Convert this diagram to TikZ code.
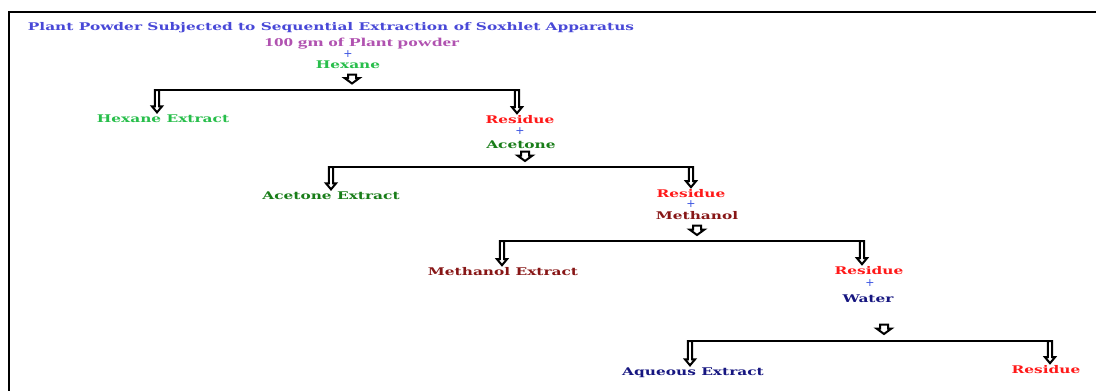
\documentclass[tikz,border=0pt]{standalone}
\usepackage{fontspec}
\newfontfamily\slab[FakeStretch=1.45]{DejaVu Serif}
\newfontfamily\powderfont[FakeStretch=1.6]{Liberation Serif}
\newfontfamily\plusfont{DejaVu Sans}
\usetikzlibrary{calc,positioning}
\definecolor{titleblue}{RGB}{72,72,215}
\definecolor{powder}{RGB}{176,82,176}
\definecolor{plusblue}{RGB}{60,85,225}
\definecolor{hexgreen}{RGB}{40,190,75}
\definecolor{acegreen}{RGB}{25,125,25}
\definecolor{resred}{RGB}{255,25,25}
\definecolor{methred}{RGB}{135,22,22}
\definecolor{watblue}{RGB}{22,22,128}
\tikzset{
x=1pt, y=-1pt,
lbl/.style={font=\slab\bfseries\fontsize{10.6}{12}\selectfont, inner sep=1.5pt, yshift=-2pt},
plus/.style={text=plusblue, font=\plusfont\fontsize{11}{11}\selectfont, inner sep=0pt},
bar/.style={line width=2pt, shorten <=-3pt, shorten >=-3pt},
hollow/.style n args={3}{draw=black, fill=white, line width=2pt,
  to path={let \p1=(\tikztostart), \p2=(\tikztotarget) in
    (\x1-#1,\y1) -- (\x1-#1,\y2+#3) -- (\x1-#2,\y2+#3) -- (\x1,\y2)
    -- (\x1+#2,\y2+#3) -- (\x1+#1,\y2+#3) -- (\x1+#1,\y1) -- cycle}},
drop/.style={hollow={2.1pt}{5pt}{6pt}},
feed/.style={hollow={4pt}{7.5pt}{5.5pt}}}

\begin{document}
\begin{tikzpicture}
\useasboundingbox (0,0) rectangle (1096,391);
\draw[line width=2.5pt] (9,391) -- (9,12) -- (1096,12);

\node[lbl, text=titleblue] (title) at (331,26) {Plant Powder Subjected to Sequential Extraction of Soxhlet Apparatus};
\node[text=powder, font=\powderfont\bfseries\fontsize{12}{13}\selectfont, inner sep=1pt] (pow) at (362,44) {100 gm of Plant powder};
\node[plus] (p0) at (348,54) {+};
\node[lbl, text=hexgreen] (hex) at (348,63) {Hexane};

% first split
\coordinate (f1a) at (352,74.5);
\coordinate (f1b) at (352,83.5);
\coordinate (b1l) at (157,90);
\coordinate (b1r) at (517,90);
\node[lbl, text=hexgreen] (hexext) at (163,117) {Hexane Extract};
\node[lbl, text=resred] (res1) at (520,118) {Residue};
\node[plus] (p1) at (520,131) {+};
\node[lbl, text=acegreen] (ace) at (521,143) {Acetone};

% second split
\coordinate (f2a) at (525,151.5);
\coordinate (f2b) at (525,161);
\coordinate (b2l) at (331,167);
\coordinate (b2r) at (691,167);
\node[lbl, text=acegreen] (aceext) at (331,194) {Acetone Extract};
\node[lbl, text=resred] (res2) at (691,192) {Residue};
\node[plus] (p2) at (691,204) {+};
\node[lbl, text=methred] (meth) at (697,214) {Methanol};

% third split
\coordinate (f3a) at (697,225.5);
\coordinate (f3b) at (697,235);
\coordinate (b3l) at (502,241);
\coordinate (b3r) at (862,241);
\node[lbl, text=methred] (methext) at (503,270) {Methanol Extract};
\node[lbl, text=resred] (res3) at (869,269) {Residue};
\node[plus] (p3) at (870,283) {+};
\node[lbl, text=watblue] (wat) at (868,297) {Water};

% last split
\coordinate (f4a) at (884,324.5);
\coordinate (f4b) at (884,334);
\coordinate (b4l) at (690,341);
\coordinate (b4r) at (1050,341);
\node[lbl, text=watblue] (aqext) at (693,371) {Aqueous Extract};
\node[lbl, text=resred] (res4) at (1046,368) {Residue};

\foreach \i in {1,...,4}
  \draw[bar] (b\i l) -- (b\i r);
\foreach \i in {1,...,4}
  \draw[feed] (f\i a) to (f\i b);

\draw[drop] (b1l) to ($(b1l |- hexext.north)+(0,-1)$);
\draw[drop] (b1r) to ($(b1r |- res1.north)+(0,-1)$);
\draw[drop] (b2l) to ($(b2l |- aceext.north)+(0,-1)$);
\draw[drop] (b2r) to ($(b2r |- res2.north)+(0,-1)$);
\draw[drop] (b3l) to ($(b3l |- methext.north)+(0,-1)$);
\draw[drop] (b3r) to ($(b3r |- res3.north)+(0,-1)$);
\draw[drop] (b4l) to ($(b4l |- aqext.north)+(0,-1)$);
\draw[drop] (b4r) to ($(b4r |- res4.north)+(0,-1)$);

\end{tikzpicture}
\end{document}
